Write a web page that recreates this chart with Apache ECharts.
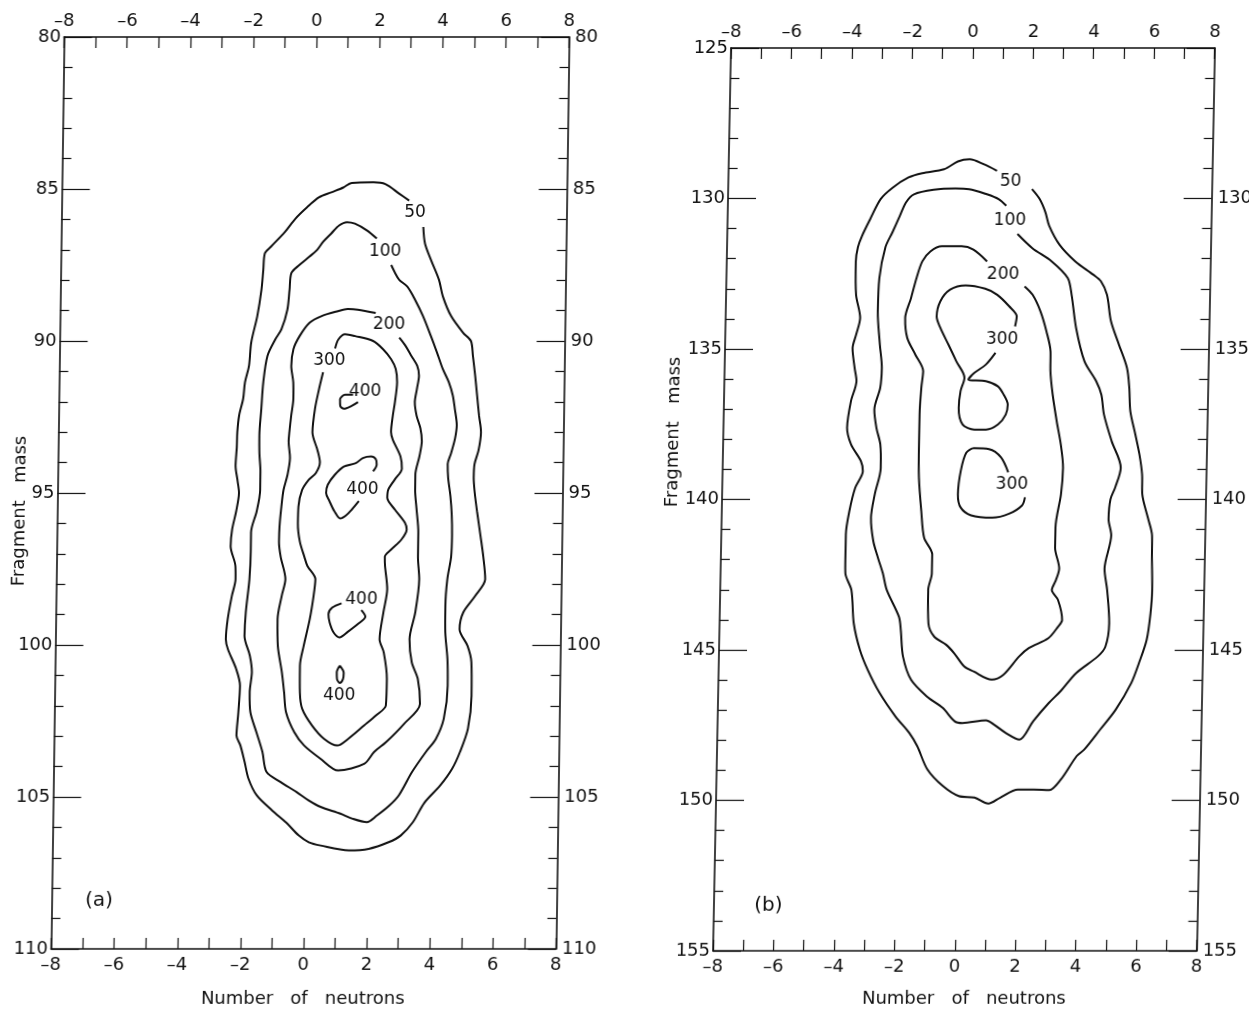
<!DOCTYPE html>
<html>
<head>
<meta charset="utf-8">
<title>Fragment mass vs number of neutrons</title>
<script src="https://cdn.jsdelivr.net/npm/echarts@6/dist/echarts.min.js"></script>
<style>
  html, body { margin: 0; padding: 0; background: #ffffff; }
  #wrap { position: relative; width: 1249px; height: 1013px; overflow: hidden; background: #ffffff; }
  .panel { position: absolute; top: 0; height: 1013px; }
  /* the two frames are slightly sheared, as on the printed plate */
  #pa { left: 0; width: 620px; transform-origin: 310px 493px; transform: skewX(-0.82deg); }
  #pb { left: 630px; width: 619px; transform-origin: 336px 501px; transform: skewX(-1.14deg); }
</style>
</head>
<body>
<div id="wrap">
  <div id="pa" class="panel"></div>
  <div id="pb" class="panel"></div>
</div>
<script>
// ---- axis ranges ----
const neutronRange = [-8, 8];
const massRangeA = [80, 110];
const massRangeB = [125, 155];

// ---- panel (a): contour paths, [neutrons, fragment mass] ----
const a50 = [[3.01,85.38],[2.70,85.16],[2.25,84.84],[1.87,84.78],[1.18,84.80],[0.92,84.95],[0.54,85.11],[0.16,85.27],[-0.22,85.60],[-0.59,85.98],[-0.91,86.41],[-1.35,86.90],[-1.54,87.12],[-1.58,87.66],[-1.63,88.32],[-1.75,89.18],[-1.93,90.05],[-1.99,90.82],[-2.11,91.36],[-2.16,91.90],[-2.28,92.45],[-2.33,92.99],[-2.34,93.5],[-2.37,94.1],[-2.30,94.6],[-2.25,95.0],[-2.33,95.6],[-2.45,96.2],[-2.49,96.75],[-2.33,97.4],[-2.32,97.84],[-2.43,98.39],[-2.55,99.15],[-2.60,99.81],[-2.53,100.14],[-2.26,100.79],[-2.13,101.34],[-2.17,102.21],[-2.22,102.98],[-2.09,103.31],[-1.95,103.85],[-1.82,104.40],[-1.55,104.95],[-1.05,105.45],[-0.6,105.85],[-0.2,106.27],[0.12,106.49],[0.50,106.60],[1.39,106.76],[2.02,106.71],[2.65,106.49],[3.03,106.27],[3.41,105.83],[3.76,105.2],[4.26,104.62],[4.63,104.07],[4.87,103.52],[5.11,102.76],[5.21,101.67],[5.19,100.57],[5.06,100.03],[4.80,99.48],[4.91,98.93],[5.28,98.39],[5.59,97.84],[5.52,97.1],[5.42,96.4],[5.30,95.6],[5.22,95.0],[5.18,94.5],[5.20,94.05],[5.32,93.6],[5.39,93.0],[5.32,92.45],[5.25,91.79],[5.18,91.14],[5.10,90.49],[5.03,90.0],[4.78,89.73],[4.39,89.18],[4.12,88.53],[3.99,87.99],[3.73,87.34],[3.53,86.79],[3.47,86.25]];
const a100 = [[2.0,86.63],[1.68,86.36],[1.30,86.14],[1.05,86.09],[0.80,86.20],[0.55,86.47],[0.30,86.74],[0.11,87.01],[-0.13,87.23],[-0.44,87.50],[-0.69,87.77],[-0.74,88.32],[-0.80,88.97],[-0.98,89.62],[-1.17,89.95],[-1.41,90.49],[-1.53,91.36],[-1.58,92.23],[-1.63,93.10],[-1.62,93.7],[-1.58,94.3],[-1.58,94.9],[-1.68,95.6],[-1.85,96.3],[-1.85,96.9],[-1.88,97.84],[-1.98,98.93],[-2.01,99.70],[-1.83,100.36],[-1.76,100.90],[-1.82,101.56],[-1.79,102.21],[-1.59,102.87],[-1.39,103.52],[-1.25,104.18],[-0.80,104.51],[-0.29,104.84],[0.09,105.11],[0.48,105.33],[1.11,105.55],[1.5,105.72],[1.95,105.83],[2.27,105.61],[2.65,105.29],[2.95,104.95],[3.36,104.18],[3.79,103.52],[4.10,103.09],[4.34,102.43],[4.45,101.34],[4.43,100.46],[4.35,99.59],[4.34,98.72],[4.39,97.84],[4.5,97.1],[4.52,96.4],[4.5,95.7],[4.45,95.1],[4.37,94.5],[4.35,94.05],[4.45,93.7],[4.57,93.21],[4.62,92.77],[4.55,92.23],[4.48,91.79],[4.35,91.36],[4.15,90.92],[3.96,90.38],[3.76,89.84],[3.50,89.18],[3.24,88.64],[2.99,88.21],[2.73,87.99],[2.60,87.77],[2.47,87.5]];
const a200 = [[2.0,89.08],[1.43,88.97],[1.11,88.95],[0.80,89.02],[0.29,89.18],[-0.09,89.40],[-0.40,89.84],[-0.59,90.27],[-0.65,90.82],[-0.58,91.36],[-0.57,91.90],[-0.63,92.45],[-0.68,92.99],[-0.7,93.3],[-0.65,93.85],[-0.72,94.4],[-0.84,94.9],[-0.9,95.45],[-0.95,96.1],[-0.96,96.6],[-0.9,97.1],[-0.74,97.84],[-0.85,98.39],[-0.97,99.15],[-0.95,100.03],[-0.81,100.90],[-0.73,101.56],[-0.66,102.21],[-0.39,102.87],[-0.07,103.31],[0.45,103.74],[1.02,104.13],[1.84,103.91],[2.15,103.52],[2.52,103.20],[3.08,102.60],[3.58,101.94],[3.50,101.12],[3.30,100.57],[3.22,99.81],[3.39,98.93],[3.50,97.84],[3.45,97.1],[3.45,96.3],[3.38,95.5],[3.33,94.9],[3.33,94.4],[3.45,93.8],[3.52,93.3],[3.47,92.88],[3.34,92.45],[3.28,92.01],[3.34,91.58],[3.40,91.14],[3.34,90.82],[3.15,90.49],[2.96,90.16],[2.76,89.89]];
const a300 = [[0.73,90.25],[0.83,89.95],[1.04,89.78],[1.36,89.84],[1.93,90.0],[2.25,90.27],[2.51,90.60],[2.66,90.92],[2.71,91.36],[2.65,92.01],[2.59,92.45],[2.54,92.99],[2.6,93.25],[2.85,93.8],[2.9,94.2],[2.68,94.56],[2.48,94.89],[2.45,95.16],[2.7,95.55],[3.02,95.98],[3.08,96.2],[2.92,96.53],[2.6,96.86],[2.4,97.1],[2.41,97.40],[2.49,98.17],[2.38,98.93],[2.27,99.81],[2.41,100.25],[2.52,101.12],[2.50,101.99],[2.19,102.32],[1.82,102.65],[1.32,103.09],[0.98,103.31],[0.56,103.09],[0.17,102.65],[-0.15,102.10],[-0.23,101.56],[-0.24,100.68],[-0.13,100.03],[0.05,99.15],[0.16,98.39],[0.21,97.84],[-0.05,97.40],[-0.15,97.1],[-0.3,96.6],[-0.37,96.0],[-0.36,95.45],[-0.25,94.9],[-0.04,94.56],[0.18,94.34],[0.3,94.0],[0.22,93.6],[0.05,93.0],[0.12,92.23],[0.24,91.58],[0.36,91.03]];
const a400top = [[1.32,91.77],[1.07,91.77],[0.91,91.92],[0.92,92.14],[1.04,92.23],[1.27,92.14],[1.48,92.01]];
const a400mid = [[1.99,94.29],[2.10,94.07],[2.07,93.89],[1.92,93.80],[1.66,93.85],[1.44,94.02],[1.06,94.13],[0.78,94.40],[0.56,94.73],[0.51,95.0],[0.62,95.27],[0.78,95.60],[0.97,95.84],[1.15,95.74],[1.33,95.55],[1.55,95.27]];
const a400low = [[1.68,98.85],[1.81,99.07],[1.57,99.32],[1.26,99.57],[1.00,99.75],[0.81,99.59],[0.68,99.26],[0.64,98.99],[0.76,98.77],[1.05,98.63]];
const a400bot = [[1.02,100.68],[1.15,100.92],[1.13,101.12],[1.03,101.25],[0.94,101.12],[0.93,100.90],[1.02,100.68]];

// contour levels of panel (a) with the place each level label is written
const contoursA = [
  { level: 50,  path: a50,      labelAt: [3.20, 85.76] },
  { level: 100, path: a100,     labelAt: [2.27, 87.07] },
  { level: 200, path: a200,     labelAt: [2.43, 89.46] },
  { level: 300, path: a300,     labelAt: [0.55, 90.66] },
  { level: 400, path: a400top,  labelAt: [1.70, 91.68] },
  { level: 400, path: a400mid,  labelAt: [1.66, 94.89] },
  { level: 400, path: a400low,  labelAt: [1.68, 98.52] },
  { level: 400, path: a400bot,  labelAt: [1.02, 101.67] }
];

// ---- panel (b): contour paths, [neutrons, fragment mass] ----
const b50 = [[0.88,129.08],[0.43,128.86],[-0.03,128.70],[-0.42,128.77],[-0.87,129.03],[-1.59,129.16],[-2.04,129.30],[-2.56,129.64],[-2.95,130.02],[-3.28,130.68],[-3.54,131.24],[-3.67,131.62],[-3.73,132.09],[-3.70,133.20],[-3.55,133.97],[-3.67,134.52],[-3.78,134.97],[-3.70,135.63],[-3.63,136.07],[-3.80,136.74],[-3.91,137.62],[-3.77,138.17],[-3.43,138.73],[-3.36,139.06],[-3.60,139.61],[-3.78,140.39],[-3.88,141.16],[-3.88,142.0],[-3.87,142.46],[-3.66,143.01],[-3.56,144.12],[-3.34,145.0],[-3.07,145.66],[-2.66,146.43],[-2.12,147.21],[-1.65,147.76],[-1.38,148.20],[-1.03,148.97],[-0.50,149.53],[0.03,149.86],[0.55,149.91],[1.01,150.11],[1.40,149.91],[1.98,149.64],[2.50,149.64],[3.02,149.66],[3.40,149.30],[3.90,148.53],[4.15,148.31],[4.66,147.65],[5.16,146.99],[5.66,146.10],[5.90,145.44],[6.14,144.67],[6.25,143.79],[6.29,143.01],[6.26,141.91],[6.25,141.2],[6.1,140.61],[5.9,139.83],[5.88,139.17],[5.78,138.51],[5.63,137.84],[5.45,137.07],[5.40,136.29],[5.31,135.63],[5.03,134.86],[4.75,134.08],[4.60,133.20],[4.39,132.75],[4.13,132.53],[3.53,132.09],[3.0,131.54],[2.64,130.90],[2.51,130.46],[2.31,130.02],[2.05,129.69]];
const b100 = [[1.21,130.24],[0.95,130.02],[0.56,129.86],[-0.03,129.69],[-0.48,129.67],[-1.20,129.71],[-1.85,129.86],[-2.11,130.13],[-2.30,130.57],[-2.54,131.13],[-2.76,131.62],[-2.94,132.64],[-2.97,133.75],[-2.88,134.86],[-2.80,135.63],[-2.84,136.29],[-3.02,137.01],[-2.94,137.62],[-2.80,138.17],[-2.77,138.95],[-2.95,139.83],[-3.06,140.61],[-2.97,141.38],[-2.80,141.95],[-2.63,142.46],[-2.49,143.01],[-2.07,143.90],[-2.00,144.34],[-1.91,145.22],[-1.63,145.99],[-1.09,146.55],[-0.56,146.93],[-0.16,147.37],[0.10,147.43],[0.88,147.34],[1.14,147.48],[1.54,147.76],[2.0,147.98],[2.44,147.37],[2.94,146.77],[3.32,146.38],[3.83,145.77],[4.53,145.22],[4.78,144.89],[4.89,144.12],[4.80,143.01],[4.7,142.3],[4.9,141.2],[4.8,140.65],[4.85,140.0],[5.0,139.6],[5.17,138.95],[4.85,138.06],[4.58,137.18],[4.48,136.52],[4.3,136.07],[3.9,135.41],[3.6,134.30],[3.43,133.20],[3.29,132.64],[2.75,132.09],[2.10,131.65],[1.60,131.18]];
const b200 = [[0.61,132.09],[0.15,131.70],[-0.24,131.59],[-0.89,131.59],[-1.27,131.76],[-1.53,132.09],[-1.71,132.64],[-1.88,133.31],[-2.06,133.97],[-1.98,134.63],[-1.70,135.19],[-1.43,135.74],[-1.48,136.29],[-1.52,137.18],[-1.52,138.17],[-1.50,139.28],[-1.40,140.39],[-1.29,141.27],[-1.01,141.83],[-1.01,142.46],[-1.12,143.01],[-1.09,144.12],[-0.89,144.56],[-0.49,144.83],[-0.22,145.11],[0.12,145.55],[0.44,145.72],[1.04,145.99],[1.42,145.83],[1.93,145.22],[2.25,144.94],[2.89,144.61],[3.20,144.23],[3.33,144.01],[3.18,143.34],[2.97,143.01],[3.1,142.68],[3.2,142.3],[3.05,141.6],[3.05,140.94],[3.21,139.83],[3.26,138.95],[3.17,138.17],[3.02,137.40],[2.87,136.52],[2.78,135.74],[2.77,135.08],[2.62,134.41],[2.41,133.75],[2.14,133.20],[1.87,132.92]];
const b300upper = [[1.58,134.25],[1.63,133.92],[1.37,133.58],[0.97,133.20],[0.57,133.0],[-0.08,132.89],[-0.59,133.03],[-0.91,133.42],[-1.02,133.92],[-0.89,134.30],[-0.61,134.86],[-0.34,135.41],[-0.06,135.96],[-0.18,136.40],[-0.23,136.96],[-0.09,137.51],[0.30,137.68],[0.69,137.68],[1.08,137.51],[1.33,137.18],[1.39,136.85],[1.25,136.52],[1.05,136.24],[0.65,136.07],[0.07,136.02],[0.26,135.80],[0.64,135.52],[0.95,135.13]];
const b300lower = [[1.45,139.1],[1.2,138.6],[0.8,138.33],[0.3,138.3],[0.05,138.45],[-0.12,139.05],[-0.2,139.83],[-0.1,140.27],[0.25,140.53],[0.95,140.61],[1.5,140.48],[1.93,140.2],[2.02,139.93]];

const contoursB = [
  { level: 50,  path: b50,       labelAt: [1.34, 129.45] },
  { level: 100, path: b100,      labelAt: [1.34, 130.74] },
  { level: 200, path: b200,      labelAt: [1.15, 132.53] },
  { level: 300, path: b300upper, labelAt: [1.16, 134.69] },
  { level: 300, path: b300lower, labelAt: [1.58, 139.52] }
];

const FONT = "'DejaVu Sans', 'Liberation Sans', sans-serif";
const INK = '#111111';

function signed(v) {
  return v < 0 ? '\u2013' + (-v) : String(v);
}

function buildOption(P) {
  const axisLine = { show: true, onZero: false, lineStyle: { color: INK, width: 1.6 } };
  const tickStyle = { color: INK, width: 1.2 };
  const xAxis = pos => ({
    type: 'value', position: pos, min: neutronRange[0], max: neutronRange[1], interval: 2,
    axisLine: axisLine,
    axisTick: { show: true, inside: true, length: 11, lineStyle: tickStyle },
    minorTick: { show: true, splitNumber: 2, length: 11, lineStyle: tickStyle },
    splitLine: { show: false }, minorSplitLine: { show: false },
    axisLabel: { formatter: signed, fontSize: 18, color: INK, fontFamily: FONT, margin: 7 },
    name: pos === 'bottom' ? 'Number   of   neutrons' : '',
    nameLocation: 'middle', nameGap: P.xNameGap,
    nameTextStyle: { fontSize: 18, color: INK, fontFamily: FONT, padding: P.xNamePad }
  });
  const yAxis = (pos, hideFirst) => ({
    type: 'value', position: pos, inverse: true, min: P.mass[0], max: P.mass[1], interval: 5,
    axisLine: axisLine,
    axisTick: { show: true, inside: true, length: 28, lineStyle: tickStyle },
    minorTick: { show: true, splitNumber: 5, length: 9, lineStyle: tickStyle },
    splitLine: { show: false }, minorSplitLine: { show: false },
    axisLabel: { fontSize: 18, color: INK, fontFamily: FONT, margin: pos === 'left' ? 3 : 6,
                 showMinLabel: !hideFirst }
  });

  const plainText = { textBorderWidth: 0, textBorderColor: 'transparent', opacity: 1 };

  const lines = P.contours.map(c => ({
    type: 'line', xAxisIndex: 0, yAxisIndex: 0,
    data: c.path, showSymbol: false, symbol: 'none', smooth: 0.3,
    lineStyle: { color: INK, width: 2 }, silent: true, z: 2
  }));

  const labels = {
    type: 'scatter', xAxisIndex: 0, yAxisIndex: 0, symbolSize: 1,
    itemStyle: { color: 'rgba(255,255,255,0)', opacity: 1 }, silent: true, z: 3,
    data: P.contours.map(c => ({ value: [c.labelAt[0], c.labelAt[1], c.level] })),
    label: Object.assign({
      show: true, position: 'inside', formatter: p => String(p.value[2]),
      fontSize: 17, color: INK, fontFamily: FONT
    }, plainText)
  };

  const tag = {
    type: 'scatter', xAxisIndex: 0, yAxisIndex: 0, symbolSize: 1,
    itemStyle: { color: 'rgba(255,255,255,0)', opacity: 1 }, silent: true,
    data: [{ value: P.tagAt, name: P.tag }],
    label: Object.assign({
      show: true, position: 'inside', formatter: p => p.name,
      fontSize: 20, color: INK, fontFamily: FONT
    }, plainText)
  };

  return {
    animation: false,
    backgroundColor: 'transparent',
    textStyle: { fontFamily: FONT },
    grid: P.grid,
    xAxis: [xAxis('bottom'), xAxis('top')],
    yAxis: [yAxis('left', false), yAxis('right', P.hideRightFirst)],
    graphic: [{
      type: 'text', x: P.yNameAt[0], y: P.yNameAt[1], rotation: Math.PI / 2,
      style: { text: 'Fragment   mass', font: '18px ' + FONT, fill: INK, align: 'center', verticalAlign: 'middle' }
    }],
    series: lines.concat([labels, tag])
  };
}

const chartA = echarts.init(document.getElementById('pa'), null, { renderer: 'canvas' });
chartA.setOption(buildOption({
  grid: { left: 57.5, top: 37, width: 505, height: 912 },
  mass: massRangeA, contours: contoursA,
  tag: '(a)', tagAt: [-6.5, 108.4], hideRightFirst: false,
  yNameAt: [20, 511], xNameGap: 41, xNamePad: [0, 0, 0, 0]
}));

const chartB = echarts.init(document.getElementById('pb'), null, { renderer: 'canvas' });
chartB.setOption(buildOption({
  grid: { left: 92, top: 48, width: 489, height: 906 },
  mass: massRangeB, contours: contoursB,
  tag: '(b)', tagAt: [-6.2, 153.5], hideRightFirst: true,
  yNameAt: [42, 432], xNameGap: 39, xNamePad: [0, 0, 0, 20]
}));
</script>
</body>
</html>
